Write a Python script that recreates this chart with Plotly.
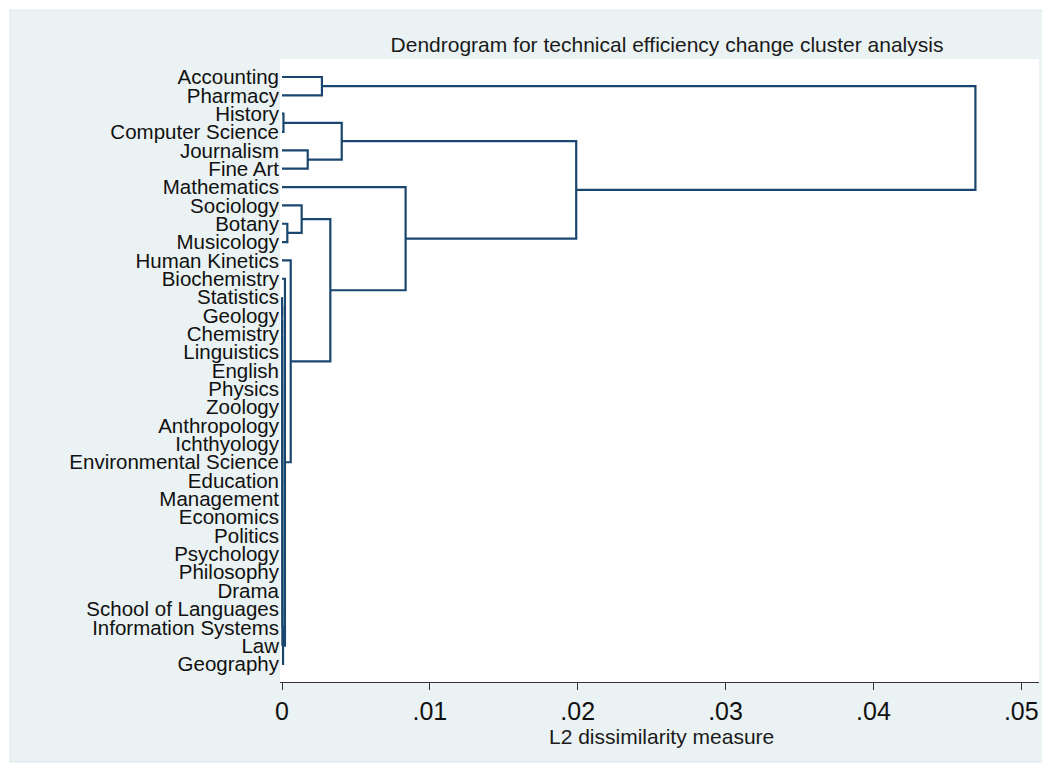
import plotly.graph_objects as go

# ---- data ----
leaf_labels = [
    "Accounting", "Pharmacy", "History", "Computer Science", "Journalism",
    "Fine Art", "Mathematics", "Sociology", "Botany", "Musicology",
    "Human Kinetics", "Biochemistry", "Statistics", "Geology", "Chemistry",
    "Linguistics", "English", "Physics", "Zoology", "Anthropology",
    "Ichthyology", "Environmental Science", "Education", "Management",
    "Economics", "Politics", "Psychology", "Philosophy", "Drama",
    "School of Languages", "Information Systems", "Law", "Geography",
]

# merges in order (scipy-style ids: 0..32 leaves, 33+ = earlier merges)
merge_left = [12, 33, 34, 35, 36, 37, 38, 39, 40, 41, 42, 43, 44, 45, 46, 47, 48, 49, 50,
              51, 11, 10, 8, 7, 56, 6, 2, 4, 59, 61, 0, 63]
merge_right = [13, 14, 15, 16, 17, 18, 19, 20, 21, 22, 23, 24, 25, 26, 27, 28, 29, 30, 31,
               32, 52, 53, 9, 55, 54, 57, 3, 5, 60, 58, 1, 62]
merge_height = [0.00001, 0.000011, 0.000012, 0.000013, 0.000014, 0.000015, 0.000016,
                0.000017, 0.000018, 0.000019, 0.00002, 0.000021, 0.000022, 0.000023,
                0.000024, 0.000025, 0.000026, 0.000027, 0.000028,
                0.00007, 0.0002, 0.00059, 0.00036, 0.00133, 0.00327, 0.00836,
                0.0001, 0.00174, 0.00404, 0.0199, 0.0027, 0.0469]

x_tick_vals = [0, 0.01, 0.02, 0.03, 0.04, 0.05]
x_tick_text = ["0", ".01", ".02", ".03", ".04", ".05"]

# ---- build dendrogram segments ----
n = len(leaf_labels)
pos = {i: float(i) for i in range(n)}
hgt = {i: 0.0 for i in range(n)}
xs, ys = [], []
for k, (a, b, h) in enumerate(zip(merge_left, merge_right, merge_height)):
    nid = n + k
    ya, yb = pos[a], pos[b]
    xs += [hgt[a], h, h, hgt[b], None]
    ys += [ya, ya, yb, yb, None]
    pos[nid] = (ya + yb) / 2.0
    hgt[nid] = h

line_color = "#1A476F"
bg = "#EAF2F3"
font_main = "Liberation Sans, Arial, sans-serif"

fig = go.Figure()
fig.add_trace(go.Scatter(x=xs, y=ys, mode="lines",
                         line=dict(color=line_color, width=2.2),
                         hoverinfo="skip", showlegend=False))

# page has an 8px body margin: figure origin sits at page (8, 8)
OFF = 8
W, H = 1050 - OFF, 772 - OFF
L, R, T, B = 280 - OFF, 11, 59 - OFF, 90
pw, ph = W - L - R, H - T - B

def px_x(p):  # page pixel -> paper x
    return (p - OFF - L) / pw

def px_y(p):  # page pixel -> paper y
    return (H - B - (p - OFF)) / ph

fig.update_layout(
    width=W, height=H,
    margin=dict(l=L, r=R, t=T, b=B),
    paper_bgcolor="white",
    plot_bgcolor="white",
    showlegend=False,
    title=dict(text="Dendrogram for technical efficiency change cluster analysis",
               x=px_x(667), xref="paper", xanchor="center",
               y=1 - (45 - OFF) / H, yref="container", yanchor="middle",
               font=dict(family=font_main, size=21, color="#1a1a1a")),
    shapes=[
        dict(type="rect", xref="paper", yref="paper", layer="below",
             x0=px_x(10), x1=px_x(1052), y0=px_y(762), y1=px_y(10),
             fillcolor=bg, line=dict(width=1, color="#DCE8EB")),
        dict(type="rect", xref="paper", yref="paper", layer="below",
             x0=0, x1=1, y0=0, y1=1, fillcolor="white", line=dict(width=0)),
    ],
    annotations=[
        dict(text="L2 dissimilarity measure", xref="paper", yref="paper",
             x=px_x(661), y=px_y(737), xanchor="center", yanchor="middle",
             showarrow=False, font=dict(family=font_main, size=21, color="#1a1a1a")),
    ],
)

fig.update_xaxes(
    range=[-0.000135, 0.0512],
    tickvals=x_tick_vals, ticktext=x_tick_text,
    ticks="outside", ticklen=7, tickwidth=1, tickcolor="#333333",
    showline=True, linecolor="#333333", linewidth=1,
    showgrid=False, zeroline=False,
    tickfont=dict(family=font_main, size=25, color="#111111"),
)
fig.update_yaxes(
    range=[32.98, -0.98],
    tickvals=list(range(n)), ticktext=leaf_labels,
    ticks="", showline=False, showgrid=False, zeroline=False,
    tickfont=dict(family=font_main, size=20.5, color="#111111"),
)

fig.write_html("out.html")
